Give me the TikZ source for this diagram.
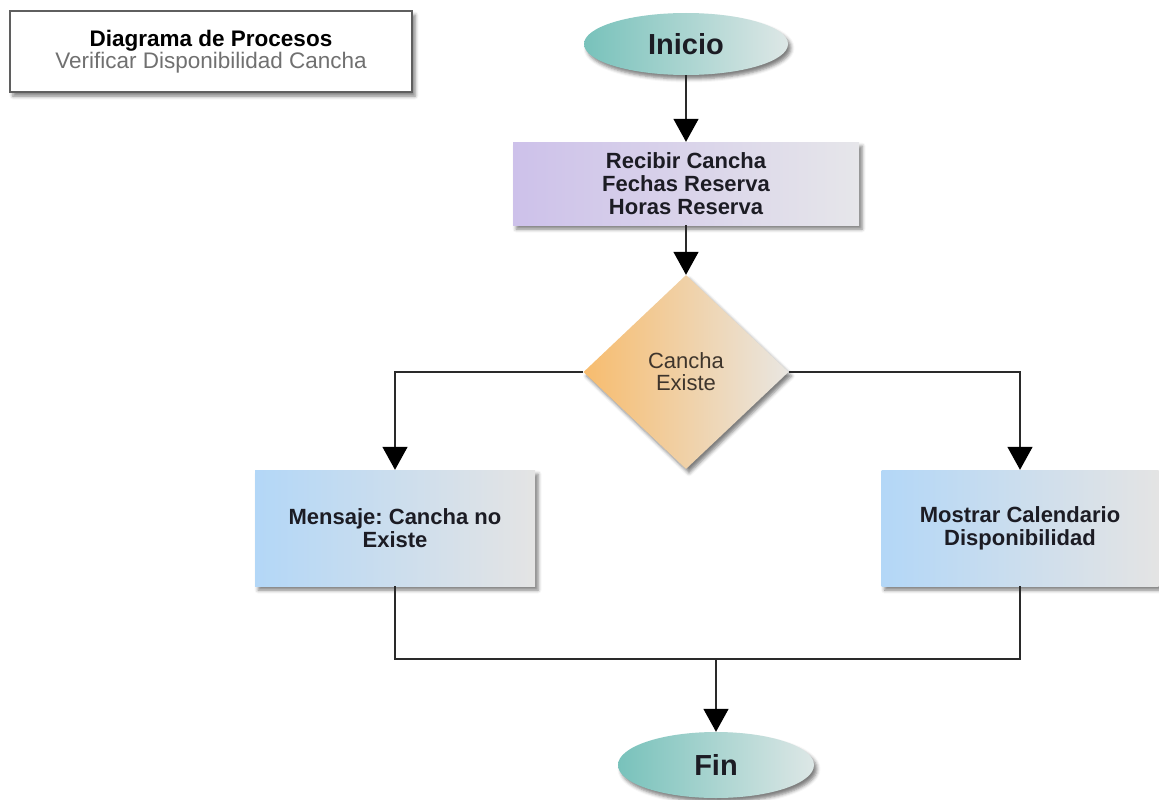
\documentclass[tikz,border=0pt]{standalone}
\usepackage{fontspec}
\setmainfont{Liberation Sans}
\usetikzlibrary{shapes.geometric,arrows.meta,shadows.blur}
\frenchspacing

\definecolor{linegray}{HTML}{2A2A2A}
\definecolor{txtdark}{HTML}{1C1C24}
\definecolor{subgray}{HTML}{707070}
\definecolor{decidetxt}{HTML}{3E352C}
\definecolor{tealL}{HTML}{78C2BB}
\definecolor{tealR}{HTML}{DDE7E6}
\definecolor{lilacL}{HTML}{CDC1EA}
\definecolor{lilacR}{HTML}{E6E6EA}
\definecolor{orangeL}{HTML}{F7BC6E}
\definecolor{orangeR}{HTML}{E9E6E1}
\definecolor{blueL}{HTML}{B3D7F7}
\definecolor{blueR}{HTML}{E4E4E4}

\tikzset{
  softshadow/.style={blur shadow={shadow xshift=3pt, shadow yshift=-4pt,
      shadow blur radius=3.5pt, shadow opacity=50}},
  terminal/.style={ellipse, draw=none, inner sep=0pt, softshadow,
      left color=tealL, right color=tealR,
      font=\bfseries\fontsize{29}{31}\selectfont, text=txtdark},
  procbox/.style={rectangle, draw=none, inner sep=0pt, softshadow,
      align=center, text=txtdark,
      font=\bfseries\fontsize{22}{23}\selectfont},
  decide/.style={diamond, draw=none, inner sep=0pt, softshadow,
      left color=orangeL, right color=orangeR, align=center,
      text=decidetxt, font=\fontsize{22}{22}\selectfont},
  titlebox/.style={rectangle, draw=linegray!75, line width=1.2pt, fill=white,
      softshadow, inner sep=0pt, align=center,
      font=\fontsize{22.5}{21}\selectfont},
  flow/.style={draw=linegray, line width=1.5pt},
  arrowflow/.style={flow, -{Triangle[length=23pt,width=25pt,color=black]}},
}

\begin{document}
\begin{tikzpicture}[x=1pt, y=-1pt]
  \useasboundingbox (0,0) rectangle (1159,800);

  % heading of the diagram
  \node[titlebox, minimum width=402pt, minimum height=81pt] (title) at (211,51.5)
    {\textbf{Diagrama de Procesos}\\\textcolor{subgray}{Verificar Disponibilidad Cancha}};

  % flow elements
  \node[terminal, minimum width=204pt, minimum height=62pt] (inicio) at (686,44) {Inicio};
  \node[procbox, left color=lilacL, right color=lilacR,
        minimum width=346pt, minimum height=83pt] (recibir) at (686,183.5)
    {Recibir Cancha\\Fechas Reserva\\Horas Reserva};
  \node[decide, minimum width=205pt, minimum height=194pt] (existe) at (686,372)
    {Cancha\\Existe};
  \node[procbox, left color=blueL, right color=blueR,
        minimum width=280pt, minimum height=116pt] (mensaje) at (395,528)
    {Mensaje: Cancha no\\Existe};
  \node[procbox, left color=blueL, right color=blueR,
        minimum width=277pt, minimum height=116pt] (mostrar) at (1020,528)
    {Mostrar Calendario\\Disponibilidad};
  \node[terminal, minimum width=196pt, minimum height=66pt] (fin) at (716,765) {Fin};

  \coordinate (union) at (716,659);

  % connectors
  \draw[arrowflow] (inicio.south) -- (recibir.north);
  \draw[arrowflow] (recibir.south) -- (existe.north);
  \draw[arrowflow] (existe.west) -| (mensaje.north);
  \draw[arrowflow] (existe.east) -| (mostrar.north);
  \draw[flow] (mensaje.south) |- (union);
  \draw[flow] (mostrar.south) |- (union);
  \draw[arrowflow] (union) -- (fin.north);
\end{tikzpicture}
\end{document}
